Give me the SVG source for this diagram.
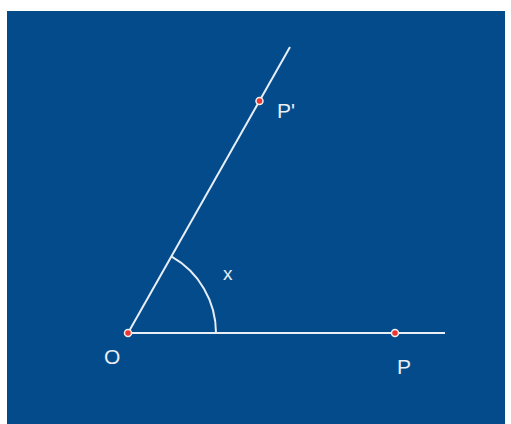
<svg xmlns="http://www.w3.org/2000/svg" width="511" height="424" viewBox="0 0 511 424">
<style>
.ln{stroke:#e8eef6;stroke-width:2;fill:none}
.pt{fill:#ee3333;stroke:#f0f0f0;stroke-width:1.5}
.lb{fill:#e8eef6;font-family:"Liberation Sans",Arial,sans-serif}
</style>
<rect x="0" y="0" width="511" height="424" fill="#ffffff"/>
<rect x="7" y="11" width="498" height="413" fill="#044b8c"/>
<g id="connectors">
<line class="ln" x1="128" y1="333" x2="445" y2="333"/>
<line class="ln" x1="128" y1="333" x2="290" y2="47"/>
<path class="ln" d="M216,333 A88,88 0 0 0 171.3,256.4"/>
</g>
<g id="O"><circle class="pt" cx="128" cy="333" r="3.5"/><text class="lb" x="104" y="364" font-size="21">O</text></g>
<g id="P"><circle class="pt" cx="395" cy="333" r="3.5"/><text class="lb" x="397" y="374" font-size="21">P</text></g>
<g id="Pp"><circle class="pt" cx="259.5" cy="101" r="3.5"/><text class="lb" x="277" y="118" font-size="21">P'</text></g>
<g id="x"><text class="lb" x="223" y="280" font-size="19">x</text></g>
</svg>
